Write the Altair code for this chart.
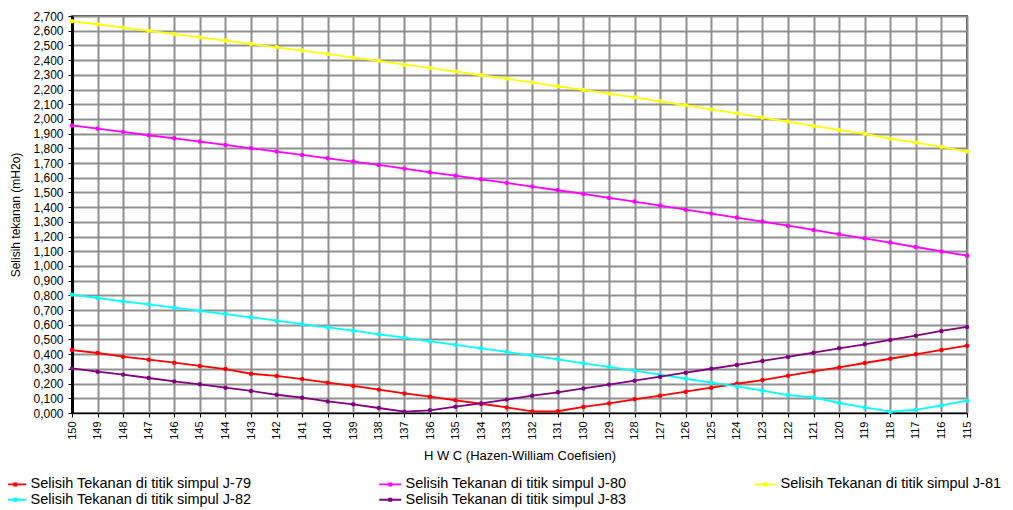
import altair as alt
import pandas as pd

hwc = [150, 149, 148, 147, 146, 145, 144, 143, 142, 141, 140, 139, 138, 137, 136, 135, 134, 133,
       132, 131, 130, 129, 128, 127, 126, 125, 124, 123, 122, 121, 120, 119, 118, 117, 116, 115]

j79 = [0.428, 0.408, 0.383, 0.363, 0.342, 0.320, 0.299, 0.267, 0.252, 0.231, 0.206, 0.184,
       0.159, 0.133, 0.111, 0.086, 0.063, 0.038, 0.011, 0.012, 0.041, 0.065, 0.093, 0.118,
       0.145, 0.172, 0.199, 0.224, 0.254, 0.283, 0.310, 0.340, 0.369, 0.399, 0.429, 0.458]
j80 = [1.956, 1.934, 1.912, 1.889, 1.868, 1.846, 1.823, 1.800, 1.778, 1.755, 1.732, 1.710,
       1.687, 1.662, 1.637, 1.614, 1.589, 1.565, 1.540, 1.515, 1.490, 1.463, 1.438, 1.411,
       1.383, 1.356, 1.329, 1.302, 1.274, 1.245, 1.215, 1.188, 1.159, 1.129, 1.099, 1.070]
j81 = [2.664, 2.644, 2.621, 2.599, 2.578, 2.555, 2.533, 2.510, 2.487, 2.465, 2.442, 2.417,
       2.395, 2.369, 2.347, 2.322, 2.297, 2.274, 2.247, 2.222, 2.197, 2.172, 2.147, 2.120,
       2.093, 2.065, 2.038, 2.009, 1.982, 1.952, 1.925, 1.898, 1.866, 1.839, 1.810, 1.778]
j82 = [0.805, 0.782, 0.759, 0.739, 0.716, 0.694, 0.673, 0.651, 0.628, 0.605, 0.582, 0.560,
       0.535, 0.512, 0.487, 0.463, 0.440, 0.415, 0.390, 0.365, 0.338, 0.313, 0.288, 0.261,
       0.233, 0.206, 0.181, 0.152, 0.122, 0.106, 0.068, 0.038, 0.009, 0.022, 0.052, 0.084]
j83 = [0.303, 0.281, 0.261, 0.238, 0.215, 0.195, 0.172, 0.150, 0.124, 0.104, 0.079, 0.059,
       0.034, 0.009, 0.018, 0.043, 0.065, 0.091, 0.118, 0.141, 0.167, 0.193, 0.220, 0.247,
       0.274, 0.301, 0.327, 0.354, 0.381, 0.410, 0.440, 0.467, 0.497, 0.526, 0.558, 0.585]

series_names = [
    "Selisih Tekanan di titik simpul J-79",
    "Selisih Tekanan di titik simpul J-80",
    "Selisih Tekanan di titik simpul J-81",
    "Selisih Tekanan di titik simpul J-82",
    "Selisih Tekanan di titik simpul J-83",
]
series_colors = ["#FF0000", "#FF00FF", "#FFFF00", "#00FFFF", "#800080"]

y_ticks = [0.0, 0.1, 0.2, 0.3, 0.4, 0.5, 0.6, 0.7, 0.8, 0.9, 1.0, 1.1, 1.2, 1.3,
           1.4, 1.5, 1.6, 1.7, 1.8, 1.9, 2.0, 2.1, 2.2, 2.3, 2.4, 2.5, 2.6, 2.7]

rows = []
for name, vals in zip(series_names, [j79, j80, j81, j82, j83]):
    for h, v in zip(hwc, vals):
        rows.append({"hwc": h, "value": v, "series": name})
df = pd.DataFrame(rows)

FONT = "Liberation Sans"

legend = alt.Legend(
    title=None,
    orient="none",
    direction="horizontal",
    legendX=-64,
    legendY=461,
    columns=3,
    columnPadding=123,
    rowPadding=0.5,
    padding=0,
    symbolType="M-2,0L2,0M-0.2,-0.2L0.2,-0.2L0.2,0.2L-0.2,0.2Z",
    symbolSize=121,
    symbolStrokeWidth=1.8,
    labelFont=FONT,
    labelFontSize=14.5,
    labelColor="black",
    labelLimit=0,
    labelOffset=8,
)

chart = (
    alt.Chart(df)
    .mark_line(strokeWidth=1.8, point=alt.OverlayMarkDef(filled=True, size=20))
    .encode(
        x=alt.X(
            "hwc:O",
            sort="descending",
            scale=alt.Scale(type="point", padding=0),
            axis=alt.Axis(
                title="H W C (Hazen-William Coefisien)",
                labelAngle=-90,
                labelFontSize=11,
                labelPadding=4,
                tickSize=4,
                grid=True,
                titlePadding=10,
                titleFontSize=13,
            ),
        ),
        y=alt.Y(
            "value:Q",
            scale=alt.Scale(domain=[0, 2.7], nice=False, zero=True),
            axis=alt.Axis(
                title="Selisih tekanan (mH2o)",
                values=y_ticks,
                labelExpr="replace(format(datum.value, '.3f'), '.', ',')",
                labelFontSize=12,
                labelPadding=5,
                tickSize=4,
                domainWidth=3,
                titlePadding=10,
                titleFontSize=12,
            ),
        ),
        color=alt.Color(
            "series:N",
            scale=alt.Scale(domain=series_names, range=series_colors),
            legend=legend,
        ),
    )
    .properties(
        width=895,
        height=397,
        padding={"left": 64, "top": 8, "right": 38, "bottom": 96},
        autosize="none",
    )
    .configure_view(stroke="black", strokeWidth=1.5)
    .configure_axis(
        labelFont=FONT,
        titleFont=FONT,
        labelColor="black",
        titleColor="black",
        titleFontWeight="normal",
        domainColor="black",
        tickColor="black",
        gridColor="#909090",
        gridWidth=2,
        gridOpacity=1,
    )
)

chart.save("out.html", embed_options={"renderer": "svg", "actions": False})
